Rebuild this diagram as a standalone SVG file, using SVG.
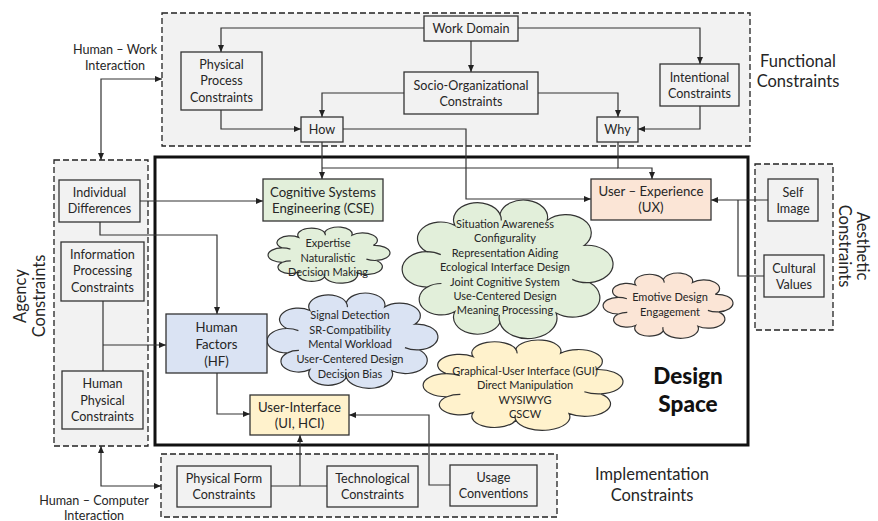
<svg xmlns="http://www.w3.org/2000/svg" xmlns:xlink="http://www.w3.org/1999/xlink" width="878" height="521" viewBox="0 0 878 521">
  <style>
    .t { font-family: Lato, "Liberation Sans", sans-serif; font-size: 12.6px; fill: #262626; text-anchor: middle; dominant-baseline: central; }
    .ct { font-size: 11px; }
    .cse { font-size: 13.2px; }
    .lbl { font-size: 16.5px; }
    .hl { font-size: 12.6px; }
    .big { font-size: 22.5px; font-weight: 900; fill: #111; }
    .dash { fill: #f2f2f2; stroke: #222; stroke-width: 1.3; stroke-dasharray: 6 3; }
    .box { fill: #f2f2f2; stroke: #333; stroke-width: 1.3; }
    .wire { fill: none; stroke: #333; stroke-width: 1.2; }
    .arr { marker-end: url(#ah); }
    .arr2 { marker-start: url(#ah); marker-end: url(#ah); }
    .cloud { stroke: #333; stroke-width: 1.2; }
  </style>
  <defs>
    <marker id="ah" markerUnits="userSpaceOnUse" markerWidth="7" markerHeight="6" refX="7" refY="3" orient="auto-start-reverse">
      <path d="M0,0 L7,3 L0,6 Z" fill="#222"/>
    </marker>
    <!-- unit cloud: semicircular bumps between points on an ellipse, plus short inner hooks -->
    <g id="cloudShape">
      <path vector-effect="non-scaling-stroke"
        d="M14.3,61.6 A1 1 0 0 1 13.9,39.5 A1 1 0 0 1 26.6,23.2 A1 1 0 0 1 46.7,16.1 A1 1 0 0 1 67.8,20 A1 1 0 0 1 84.4,35.6 A1 1 0 0 1 86.7,58.8 A1 1 0 0 1 71.8,77.8 A1 1 0 0 1 46.7,83.9 A1 1 0 0 1 26.6,76.8 A1 1 0 0 1 14.3,61.6 Z"/>
      <path vector-effect="non-scaling-stroke" fill="none"
        d="M14.3,61.6 A9.8 9.8 0 0 1 20.6,59.4 M13.9,39.5 A11.05 11.05 0 0 1 20.3,41.4 M46.7,16.1 A10.65 10.65 0 0 1 47.3,20.1 M86.7,58.8 A11.65 11.65 0 0 1 79,56.8 M46.7,83.9 A12.9 12.9 0 0 1 46.5,79"/>
    </g>
  </defs>

  <!-- constraint regions -->
  <g id="functional-region">
    <rect class="dash" x="162" y="13" width="588" height="133"/>
    <text class="t lbl" x="798" y="61">Functional</text>
    <text class="t lbl" x="798" y="81">Constraints</text>
  </g>
  <g id="agency-region">
    <rect class="dash" x="54" y="160" width="94" height="286"/>
    <text class="t lbl" transform="translate(20,296) rotate(-90)">Agency</text>
    <text class="t lbl" transform="translate(39,296) rotate(-90)">Constraints</text>
  </g>
  <g id="aesthetic-region">
    <rect class="dash" x="755" y="164" width="78" height="166"/>
    <text class="t lbl" transform="translate(863,246) rotate(90)">Aesthetic</text>
    <text class="t lbl" transform="translate(845,246) rotate(90)">Constraints</text>
  </g>
  <g id="implementation-region">
    <rect class="dash" x="161" y="454" width="396" height="63"/>
    <text class="t lbl" x="652" y="474">Implementation</text>
    <text class="t lbl" x="652" y="495">Constraints</text>
  </g>

  <!-- design space -->
  <g id="design-space">
    <rect x="155" y="157" width="593" height="288" fill="#fff" stroke="#111" stroke-width="3"/>
    <text class="t big" x="688" y="375">Design</text>
    <text class="t big" x="688" y="403">Space</text>
  </g>

  <!-- interaction labels -->
  <g id="human-work-label">
    <text class="t hl" x="115" y="49">Human – Work</text>
    <text class="t hl" x="115" y="65">Interaction</text>
  </g>
  <g id="human-computer-label">
    <text class="t hl" x="94" y="500">Human – Computer</text>
    <text class="t hl" x="94" y="515">Interaction</text>
  </g>

  <!-- clouds -->
  <g id="cloud-expertise">
    <use xlink:href="#cloudShape" class="cloud" fill="#e2efda" transform="translate(264.1,222.25) scale(1.295,0.65)"/>
    <text class="t ct" x="328" y="242">Expertise</text>
    <text class="t ct" x="328" y="257">Naturalistic</text>
    <text class="t ct" x="328" y="271">Decision Making</text>
  </g>
  <g id="cloud-cse">
    <use xlink:href="#cloudShape" class="cloud" fill="#e2efda" transform="translate(395.3,188.3) scale(2.24,1.603)"/>
    <text class="t ct" x="505" y="223">Situation Awareness</text>
    <text class="t ct" x="505" y="237.5">Configurality</text>
    <text class="t ct" x="505" y="252">Representation Aiding</text>
    <text class="t ct" x="505" y="266.5">Ecological Interface Design</text>
    <text class="t ct" x="505" y="281">Joint Cognitive System</text>
    <text class="t ct" x="505" y="295">Use-Centered Design</text>
    <text class="t ct" x="505" y="309.5">Meaning Processing</text>
  </g>
  <g id="cloud-hf">
    <use xlink:href="#cloudShape" class="cloud" fill="#dae3f3" transform="translate(261.55,284.95) scale(1.815,1.103)"/>
    <text class="t ct" x="350" y="314">Signal Detection</text>
    <text class="t ct" x="350" y="329">SR-Compatibility</text>
    <text class="t ct" x="350" y="343.5">Mental Workload</text>
    <text class="t ct" x="350" y="358">User-Centered Design</text>
    <text class="t ct" x="350" y="373">Decision Bias</text>
  </g>
  <g id="cloud-ux">
    <use xlink:href="#cloudShape" class="cloud" fill="#fbe5d6" transform="translate(598.86,267.49) scale(1.38,0.755)"/>
    <text class="t ct" x="670" y="296">Emotive Design</text>
    <text class="t ct" x="670" y="311">Engagement</text>
  </g>
  <g id="cloud-ui">
    <use xlink:href="#cloudShape" class="cloud" fill="#fff2cc" transform="translate(416.63,332.37) scale(2.123,1.045)"/>
    <text class="t ct" x="525" y="370">Graphical-User Interface (GUI)</text>
    <text class="t ct" x="525" y="384.5">Direct Manipulation</text>
    <text class="t ct" x="525" y="399">WYSIWYG</text>
    <text class="t ct" x="525" y="413">CSCW</text>
  </g>

  <!-- connectors -->
  <g id="connectors">
    <path class="wire arr" d="M424,28 H221 V52"/>
    <path class="wire arr" d="M518,28 H700 V64"/>
    <path class="wire arr" d="M471,41 V72"/>
    <path class="wire arr" d="M221,110 V129 H301"/>
    <path class="wire arr" d="M404,93 H322 V117"/>
    <path class="wire arr" d="M538,93 H618 V117"/>
    <path class="wire arr" d="M700,106 V129 H638"/>
    <path class="wire arr" d="M322,142 V179"/>
    <path class="wire arr" d="M343,129 H466 V199 H591"/>
    <path class="wire arr" d="M618,142 V168 H652 V179"/>
    <path class="wire" d="M618,168 H322"/>
    <path class="wire arr" d="M140,201 H263"/>
    <path class="wire arr" d="M100,222 V235 H217 V314"/>
    <path class="wire" d="M103,301 V371"/>
    <path class="wire arr" d="M103,345 H166"/>
    <path class="wire arr" d="M217,373 V414 H250"/>
    <path class="wire" d="M271,486 H327"/>
    <path class="wire arr" d="M300,486 V435"/>
    <path class="wire arr" d="M450,485 H429 V415 H349"/>
    <path class="wire arr" d="M768,200 H711"/>
    <path class="wire" d="M764,276 H738 V200"/>
    <path class="wire arr2" d="M162,79 H101 V160"/>
    <path class="wire arr2" d="M161,486 H101 V446"/>
  </g>

  <!-- nodes -->
  <g id="work-domain">
    <rect class="box" x="424" y="16" width="94" height="25"/>
    <text class="t" x="471" y="28.5">Work Domain</text>
  </g>
  <g id="physical-process">
    <rect class="box" x="181" y="52" width="81" height="58"/>
    <text class="t" x="221.5" y="64">Physical</text>
    <text class="t" x="221.5" y="80">Process</text>
    <text class="t" x="221.5" y="97">Constraints</text>
  </g>
  <g id="socio-organizational">
    <rect class="box" x="404" y="72" width="134" height="42"/>
    <text class="t" x="471" y="85">Socio-Organizational</text>
    <text class="t" x="471" y="101">Constraints</text>
  </g>
  <g id="intentional">
    <rect class="box" x="660" y="64" width="79" height="42"/>
    <text class="t" x="699.5" y="77">Intentional</text>
    <text class="t" x="699.5" y="93">Constraints</text>
  </g>
  <g id="how">
    <rect class="box" x="301" y="117" width="42" height="25"/>
    <text class="t" x="322" y="129.5">How</text>
  </g>
  <g id="why">
    <rect class="box" x="597" y="117" width="41" height="25"/>
    <text class="t" x="617.5" y="129.5">Why</text>
  </g>
  <g id="individual-differences">
    <rect class="box" x="59" y="180" width="81" height="42"/>
    <text class="t" x="99.5" y="192">Individual</text>
    <text class="t" x="99.5" y="208">Differences</text>
  </g>
  <g id="information-processing">
    <rect class="box" x="61" y="242" width="83" height="59"/>
    <text class="t" x="102.5" y="254">Information</text>
    <text class="t" x="102.5" y="270">Processing</text>
    <text class="t" x="102.5" y="287">Constraints</text>
  </g>
  <g id="human-physical">
    <rect class="box" x="62" y="371" width="81" height="58"/>
    <text class="t" x="102.5" y="383">Human</text>
    <text class="t" x="102.5" y="400">Physical</text>
    <text class="t" x="102.5" y="416">Constraints</text>
  </g>
  <g id="cse">
    <rect class="box" x="263" y="179" width="120" height="42" style="fill:#e2efda"/>
    <text class="t cse" x="323" y="192">Cognitive Systems</text>
    <text class="t cse" x="323" y="208">Engineering (CSE)</text>
  </g>
  <g id="human-factors">
    <rect class="box" x="166" y="314" width="101" height="59" style="fill:#dae3f3"/>
    <text class="t cse" x="216.5" y="327">Human</text>
    <text class="t cse" x="216.5" y="344">Factors</text>
    <text class="t cse" x="216.5" y="361">(HF)</text>
  </g>
  <g id="user-interface">
    <rect class="box" x="250" y="395" width="99" height="40" style="fill:#fff2cc"/>
    <text class="t cse" x="299.5" y="407">User-Interface</text>
    <text class="t cse" x="299.5" y="423">(UI, HCI)</text>
  </g>
  <g id="user-experience">
    <rect class="box" x="591" y="179" width="120" height="41" style="fill:#fbe5d6"/>
    <text class="t cse" x="651" y="191">User – Experience</text>
    <text class="t cse" x="651" y="207">(UX)</text>
  </g>
  <g id="self-image">
    <rect class="box" x="768" y="179" width="50" height="42"/>
    <text class="t" x="793" y="192">Self</text>
    <text class="t" x="793" y="208">Image</text>
  </g>
  <g id="cultural-values">
    <rect class="box" x="764" y="255" width="60" height="42"/>
    <text class="t" x="794" y="268">Cultural</text>
    <text class="t" x="794" y="284">Values</text>
  </g>
  <g id="physical-form">
    <rect class="box" x="177" y="466" width="94" height="41"/>
    <text class="t" x="224" y="478">Physical Form</text>
    <text class="t" x="224" y="494">Constraints</text>
  </g>
  <g id="technological">
    <rect class="box" x="327" y="466" width="91" height="41"/>
    <text class="t" x="372.5" y="478">Technological</text>
    <text class="t" x="372.5" y="494">Constraints</text>
  </g>
  <g id="usage-conventions">
    <rect class="box" x="450" y="465" width="87" height="41"/>
    <text class="t" x="493.5" y="477">Usage</text>
    <text class="t" x="493.5" y="493">Conventions</text>
  </g>
</svg>
